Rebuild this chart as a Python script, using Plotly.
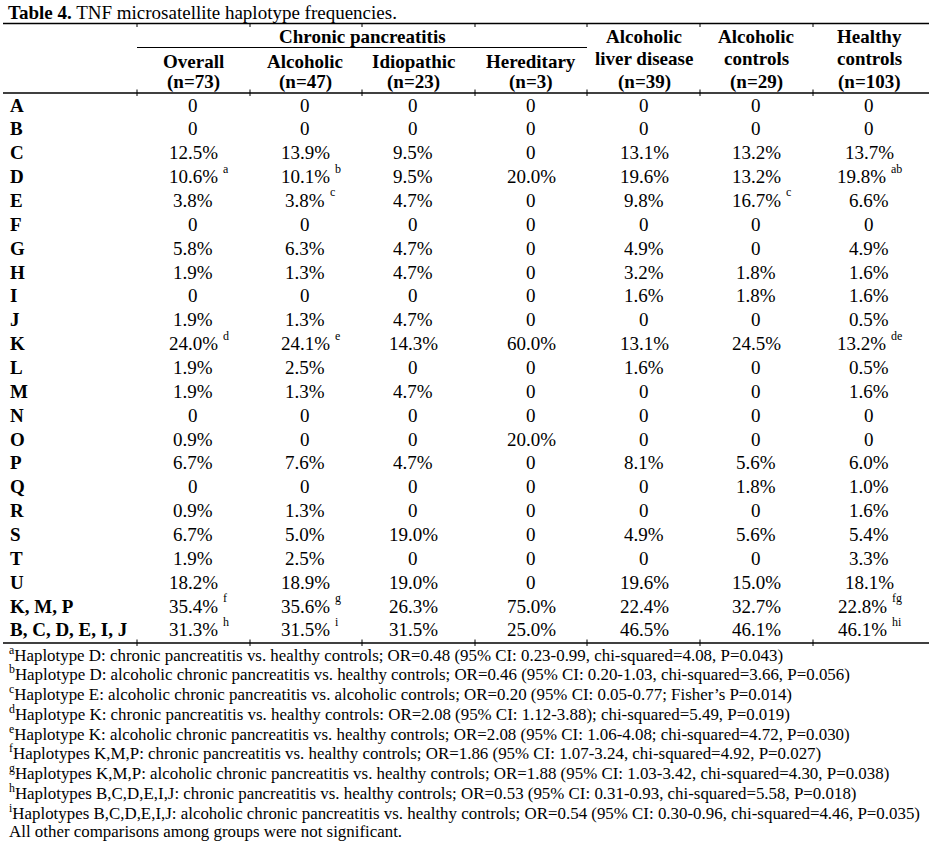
import plotly.graph_objects as go

# ---------------- data ----------------
title_bold = "Table 4."
title_rest = " TNF microsatellite haplotype frequencies."

group_header = "Chronic pancreatitis"
col_headers = [
    ["Overall", "(n=73)"],
    ["Alcoholic", "(n=47)"],
    ["Idiopathic", "(n=23)"],
    ["Hereditary", "(n=3)"],
    ["Alcoholic", "liver disease", "(n=39)"],
    ["Alcoholic", "controls", "(n=29)"],
    ["Healthy", "controls", "(n=103)"],
]

row_labels = ["A", "B", "C", "D", "E", "F", "G", "H", "I", "J", "K", "L", "M",
              "N", "O", "P", "Q", "R", "S", "T", "U", "K, M, P", "B, C, D, E, I, J"]

overall      = ["0", "0", "12.5%", "10.6%", "3.8%", "0", "5.8%", "1.9%", "0", "1.9%", "24.0%", "1.9%", "1.9%", "0", "0.9%", "6.7%", "0", "0.9%", "6.7%", "1.9%", "18.2%", "35.4%", "31.3%"]
alcoholic    = ["0", "0", "13.9%", "10.1%", "3.8%", "0", "6.3%", "1.3%", "0", "1.3%", "24.1%", "2.5%", "1.3%", "0", "0", "7.6%", "0", "1.3%", "5.0%", "2.5%", "18.9%", "35.6%", "31.5%"]
idiopathic   = ["0", "0", "9.5%", "9.5%", "4.7%", "0", "4.7%", "4.7%", "0", "4.7%", "14.3%", "0", "4.7%", "0", "0", "4.7%", "0", "0", "19.0%", "0", "19.0%", "26.3%", "31.5%"]
hereditary   = ["0", "0", "0", "20.0%", "0", "0", "0", "0", "0", "0", "60.0%", "0", "0", "0", "20.0%", "0", "0", "0", "0", "0", "0", "75.0%", "25.0%"]
liver        = ["0", "0", "13.1%", "19.6%", "9.8%", "0", "4.9%", "3.2%", "1.6%", "0", "13.1%", "1.6%", "0", "0", "0", "8.1%", "0", "0", "4.9%", "0", "19.6%", "22.4%", "46.5%"]
alc_controls = ["0", "0", "13.2%", "13.2%", "16.7%", "0", "0", "1.8%", "1.8%", "0", "24.5%", "0", "0", "0", "0", "5.6%", "1.8%", "0", "5.6%", "0", "15.0%", "32.7%", "46.1%"]
healthy      = ["0", "0", "13.7%", "19.8%", "6.6%", "0", "4.9%", "1.6%", "1.6%", "0.5%", "13.2%", "0.5%", "1.6%", "0", "0", "6.0%", "1.0%", "1.6%", "5.4%", "3.3%", "18.1%", "22.8%", "46.1%"]
columns = [overall, alcoholic, idiopathic, hereditary, liver, alc_controls, healthy]

# superscript markers: (row label, column index, marker)
sup_marks = [
    ("D", 0, "a"), ("D", 1, "b"), ("D", 6, "ab"),
    ("E", 1, "c"), ("E", 5, "c"),
    ("K", 0, "d"), ("K", 1, "e"), ("K", 6, "de"),
    ("K, M, P", 0, "f"), ("K, M, P", 1, "g"), ("K, M, P", 6, "fg"),
    ("B, C, D, E, I, J", 0, "h"), ("B, C, D, E, I, J", 1, "i"), ("B, C, D, E, I, J", 6, "hi"),
]

footnote_marks = ["a", "b", "c", "d", "e", "f", "g", "h", "i", ""]
footnote_texts = [
    "Haplotype D: chronic pancreatitis vs. healthy controls; OR=0.48 (95% CI: 0.23-0.99, chi-squared=4.08, P=0.043)",
    "Haplotype D: alcoholic chronic pancreatitis vs. healthy controls; OR=0.46 (95% CI: 0.20-1.03, chi-squared=3.66, P=0.056)",
    "Haplotype E: alcoholic chronic pancreatitis vs. alcoholic controls; OR=0.20 (95% CI: 0.05-0.77; Fisher\u2019s P=0.014)",
    "Haplotype K: chronic pancreatitis vs. healthy controls: OR=2.08 (95% CI: 1.12-3.88); chi-squared=5.49, P=0.019)",
    "Haplotype K: alcoholic chronic pancreatitis vs. healthy controls; OR=2.08 (95% CI: 1.06-4.08; chi-squared=4.72, P=0.030)",
    "Haplotypes K,M,P: chronic pancreatitis vs. healthy controls; OR=1.86 (95% CI: 1.07-3.24, chi-squared=4.92, P=0.027)",
    "Haplotypes K,M,P: alcoholic chronic pancreatitis vs. healthy controls; OR=1.88 (95% CI: 1.03-3.42, chi-squared=4.30, P=0.038)",
    "Haplotypes B,C,D,E,I,J: chronic pancreatitis vs. healthy controls; OR=0.53 (95% CI: 0.31-0.93, chi-squared=5.58, P=0.018)",
    "Haplotypes B,C,D,E,I,J: alcoholic chronic pancreatitis vs. healthy controls; OR=0.54 (95% CI: 0.30-0.96, chi-squared=4.46, P=0.035)",
    "All other comparisons among groups were not significant.",
]

# ---------------- layout / style ----------------
W, H = 932, 845
FONT = "Liberation Serif, Times New Roman, serif"
BODY = 19
TITLE = 19
FOOT = 16.9
SUP = 12
col_x = [193, 305, 413, 531, 644, 756, 869]
col_bounds = [137, 250, 362, 475, 587, 700, 813]
label_x = 8
row_y0, row_dy = 105, 23.86
foot_y0, foot_dy = 653.5, 19.75
center_whole = [False, False, False, False, False, False, True]

# approximate Times glyph widths (em/1000) used to place superscripts
GW = {".": 250, "%": 833, "a": 444, "b": 500, "c": 444, "d": 500, "e": 444,
      "f": 333, "g": 500, "h": 500, "i": 278}

def text_w(s, size):
    return sum(GW.get(ch, 500) for ch in s) * size / 1000.0

ann = []

def add(x, y, text, size=BODY, bold=False, xanchor="center"):
    ann.append(dict(x=x, y=y, xref="x", yref="y",
                    text=("<b>%s</b>" % text) if bold else text,
                    showarrow=False, xanchor=xanchor, yanchor="middle",
                    font=dict(family=FONT, size=size, color="black")))

# title
add(label_x - 2, 12.5, "<b>%s</b>%s" % (title_bold, title_rest), size=TITLE, xanchor="left")

# header
add((col_bounds[0] + col_bounds[4]) / 2, 36, group_header, bold=True)
for ci, lines in enumerate(col_headers):
    ys = [61, 82] if len(lines) == 2 else [36, 58.5, 82]
    for ln, yy in zip(lines, ys):
        add(col_x[ci], yy, ln, bold=True)

# body
sup_lookup = {(r, c): m for r, c, m in sup_marks}
for ri, lab in enumerate(row_labels):
    y = row_y0 + ri * row_dy
    add(label_x, y, lab, bold=True, xanchor="left")
    for ci, col in enumerate(columns):
        val = col[ri]
        mark = sup_lookup.get((lab, ci))
        cx = col_x[ci]
        if mark:
            vw = text_w(val, BODY)
            sw = text_w(mark, SUP)
            gap = 3
            if center_whole[ci]:
                cx = cx - (gap + sw) / 2
            add(cx, y, val)
            add(cx + vw / 2 + gap, y - 8, mark, size=SUP, xanchor="left")
        else:
            add(cx, y, val)

# footnotes
for fi, (m, t) in enumerate(zip(footnote_marks, footnote_texts)):
    y = foot_y0 + fi * foot_dy
    txt = ("<sup>%s</sup>%s" % (m, t)) if m else t
    add(label_x - 1, y, txt, size=FOOT, xanchor="left")

# rules
shapes = []
def hline(x0, x1, y, w=1.5):
    shapes.append(dict(type="line", xref="x", yref="y", x0=x0, x1=x1, y0=y, y1=y,
                       line=dict(color="black", width=w)))
def vtick(x, y0, y1):
    shapes.append(dict(type="line", xref="x", yref="y", x0=x, x1=x, y0=y0, y1=y1,
                       line=dict(color="black", width=1)))

hline(3, 929, 23.5)
hline(col_bounds[0], col_bounds[4], 47.5, 1.2)
hline(3, 929, 93)
hline(3, 929, 643)
for xb in col_bounds:
    vtick(xb, 23.5, 27)
    vtick(xb, 89.5, 96)
    vtick(xb, 639.5, 646)

fig = go.Figure()
fig.update_layout(
    width=W, height=H,
    margin=dict(l=0, r=0, t=0, b=0),
    paper_bgcolor="white", plot_bgcolor="white",
    xaxis=dict(range=[0, W], visible=False, fixedrange=True),
    yaxis=dict(range=[H, 0], visible=False, fixedrange=True),
    annotations=ann, shapes=shapes, showlegend=False,
)
fig.write_html("out.html", config={"displayModeBar": False},
               post_script="document.body.style.margin='0';document.body.style.overflow='hidden';")
